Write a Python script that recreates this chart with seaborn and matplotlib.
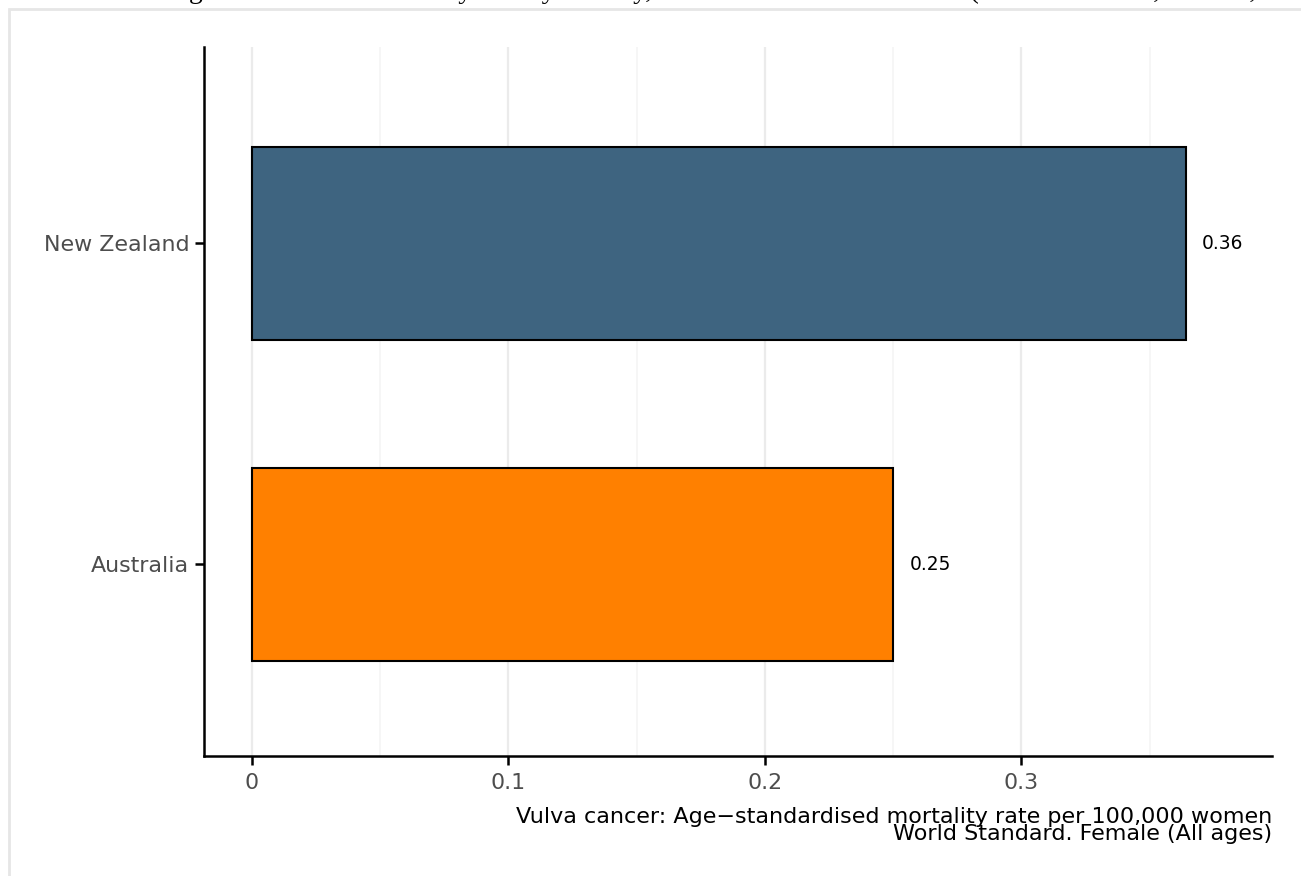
import matplotlib
matplotlib.use("Agg")
import matplotlib.pyplot as plt
from matplotlib.patches import Rectangle
from matplotlib.ticker import MultipleLocator
import seaborn as sns
import pandas as pd

# values
countries = ["New Zealand", "Australia"]
rates = [0.364, 0.250]
rate_labels = ["0.36", "0.25"]
bar_colors = {"New Zealand": "#3E6480", "Australia": "#FF8000"}
x_ticks = [0, 0.1, 0.2, 0.3]
x_tick_labels = ["0", "0.1", "0.2", "0.3"]
title = ("Vulva cancer: Age-standardised mortality rate by country, Australia and "
         "New Zealand (World Standard, Female, All ages)")
x_title = ("Vulva cancer: Age\u2212standardised mortality rate per 100,000 women\n"
           "World Standard. Female (All ages)")

df = pd.DataFrame({"country": countries, "rate": rates})

sns.set_style("white")
plt.rcParams["font.family"] = ["DejaVu Sans"]

fig = plt.figure(figsize=(13.01, 8.76), dpi=100)
ax = fig.add_axes([0.1568, 0.1370, 0.8209, 0.8093])

# outer panel border (only top and left edges are inside the image)
fig.patches.append(Rectangle((9 / 1301, -0.05), 1.2, 1 - 9 / 876 + 0.05,
                             transform=fig.transFigure, fill=False,
                             edgecolor="#E6E6E6", linewidth=2, zorder=0))

sns.barplot(data=df, x="rate", y="country", hue="country", order=countries,
            palette=bar_colors, saturation=1, orient="h", width=0.6,
            edgecolor="black", linewidth=1.5, legend=False, ax=ax, zorder=3)

for i, (v, lab) in enumerate(zip(rates, rate_labels)):
    ax.text(v + 0.0065, i, lab, va="center", ha="left", fontsize=13.4,
            color="black")

ax.set_xlim(-0.0187, 0.3977)
ax.set_ylim(1.597, -0.612)
ax.set_xticks(x_ticks)
ax.set_xticklabels(x_tick_labels)
ax.xaxis.set_minor_locator(MultipleLocator(0.05))
ax.grid(axis="x", which="major", color="#EBEBEB", linewidth=1.6, zorder=0)
ax.grid(axis="x", which="minor", color="#F5F5F5", linewidth=1.2, zorder=0)
ax.grid(axis="y", visible=False)
ax.set_axisbelow(True)

for side in ["top", "right"]:
    ax.spines[side].set_visible(False)
for side in ["left", "bottom"]:
    ax.spines[side].set_color("black")
    ax.spines[side].set_linewidth(1.8)

ax.tick_params(axis="both", which="major", left=True, bottom=True,
               length=6.5, width=1.8, color="black",
               labelsize=15.9, labelcolor="#4D4D4D", pad=4)
ax.tick_params(axis="x", which="major", pad=6)
ax.tick_params(axis="x", which="minor", bottom=False, length=0)

ax.set_ylabel("")
ax.set_xlabel(x_title, fontsize=16, color="black", ha="right", x=1.0,
              linespacing=0.8, labelpad=10)

# title sits mostly above the image edge, as in the reference
fig.text(0.008, 1.0 + 1.5 / 876, title, ha="left", va="baseline", fontsize=20,
         family=["Liberation Serif", "DejaVu Serif"], color="black")

fig.savefig("out.png", dpi=100)
